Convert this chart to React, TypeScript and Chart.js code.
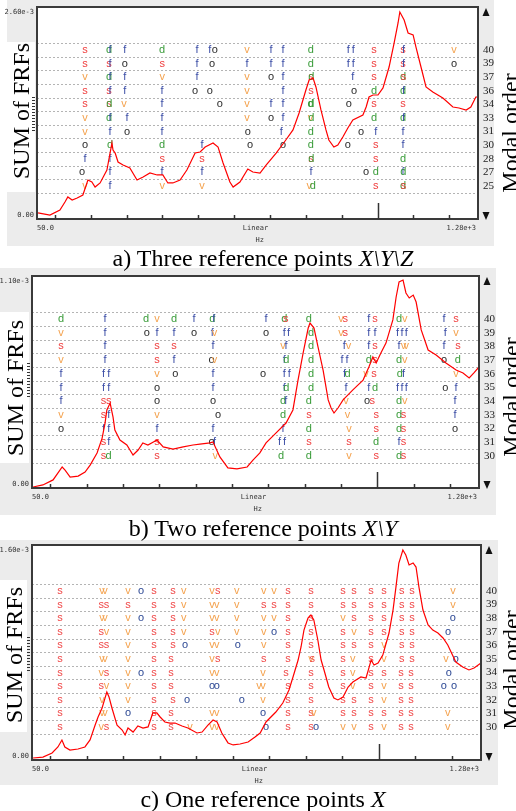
import React, { useEffect, useRef } from 'react';
import { Chart, registerables } from 'chart.js';
Chart.register(...registerables);

// ---------- shared axis data ----------
const FREQ_MIN = 50;
const FREQ_MAX = 1280;
const xTicks = [100, 200, 300, 400, 500, 600, 700, 800, 900, 1000, 1100, 1200];
const xLabels = ['50.0', 'Linear', '1.28e+3', 'Hz'];

// ---------- panel a : three reference points ----------
const freqA = [53,86,114,128,136,148,162,178,192,203,212,226,245,259,262,268,276,290,309,329,346,365,385,401,415,429,449,468,491,505,519,541,555,569,588,597,616,638,652,672,689,717,744,764,781,800,809,820,828,842,856,864,878,889,903,917,931,959,968,976,987,1001,1015,1032,1046,1057,1062,1074,1085,1099,1107,1121,1135,1154,1182,1210,1227,1247,1260,1274,1280];
const sumA = [0.074,0.049,0.110,0.208,0.270,0.233,0.258,0.294,0.478,0.454,0.392,0.442,0.601,0.932,0.846,0.809,0.699,0.662,0.625,0.478,0.515,0.564,0.540,0.540,0.442,0.442,0.478,0.601,0.809,0.822,0.883,0.932,0.883,0.687,0.454,0.392,0.454,0.613,0.576,0.564,0.662,0.809,0.969,1.092,1.300,1.582,1.705,1.729,1.619,1.337,1.092,0.969,0.883,0.908,1.006,1.116,1.214,1.275,1.374,1.496,1.521,1.521,1.607,1.864,2.158,2.404,2.539,2.441,2.281,2.257,2.109,1.864,1.619,1.557,1.484,1.374,1.361,1.337,1.374,1.496,1.496];
const ordersA = ['40','39','37','36','34','33','31','30','28','27','25'];
const marksA = [
  '184s 251d 254f 295f 399d 496f 532f 546o 636v 703f 736f 814d 918f 932f 990s 1071s 1072f 1213v',
  '184s 251s 254f 295o 399s 496f 538o 636f 703f 736f 814d 918f 932f 990s 1071s 1072f 1213o',
  '184v 251d 254f 295f 399v 496f 636v 703o 736f 814s 815d 931f 990s 1071d 1072s',
  '184s 251s 254f 295f 399f 491o 532o 636v 736f 814s 934o 990d 1071d 1072f',
  '184s 251s 252d 293v 399f 560o 636v 703f 736f 813d 815d 920o 990s 1071s',
  '184v 251d 254f 301f 399f 636v 703o 736f 813v 815d 990d 1071d 1072f',
  '184v 254f 301o 399f 638o 731f 814d 954o 995f 1071f',
  '184o 254d 399d 510f 644o 736o 814d 917o 995s 1071f',
  '184f 254f 399s 510s 814s 815d 995s 1071d',
  '176o 254f 399f 510f 814f 968o 995d 1071f 1072d',
  '184v 254f 399v 510v 809v 819d 995s 1071d 1072s',
];

// ---------- panel b : two reference points ----------
const freqB = [53,80,108,133,141,155,177,196,210,229,243,251,256,265,273,278,292,311,328,342,355,369,394,411,438,466,493,512,540,548,567,589,614,642,658,677,694,721,749,768,782,796,810,815,826,837,851,865,873,881,892,906,933,961,977,988,997,1010,1024,1043,1052,1060,1071,1079,1088,1099,1107,1121,1140,1162,1189,1217,1236,1253,1266,1280];
const sumB = [0.005,0.016,0.042,0.109,0.093,0.057,0.062,0.083,0.119,0.182,0.259,0.337,0.405,0.441,0.368,0.301,0.249,0.223,0.171,0.197,0.234,0.223,0.249,0.213,0.202,0.213,0.223,0.228,0.234,0.239,0.161,0.104,0.099,0.109,0.145,0.182,0.234,0.285,0.337,0.405,0.560,0.700,0.830,0.856,0.830,0.732,0.612,0.457,0.415,0.389,0.415,0.457,0.509,0.560,0.628,0.680,0.649,0.700,0.752,0.872,0.991,1.069,1.079,1.012,0.986,1.001,0.965,0.820,0.716,0.690,0.649,0.612,0.597,0.571,0.597,0.628];
const ordersB = ['40','39','38','37','36','35','34','33','32','31','30'];
const marksB = [
  '130d 251f 364d 394v 441d 496f 546d 550f 694f 744d 748s 812d 900v 912s 977f 994s 1060d 1076v 1184f 1217s',
  '130v 251f 366o 394f 441f 496o 546f 552v 694o 744f 756f 818d 900v 912s 977f 994f 1056f 1068f 1080f 1187f 1217v',
  '130s 251f 394s 441s 548f 741v 749f 818d 909f 921v 977f 994s 1060f 1072v 1080v 1184f 1222s',
  '130v 251f 394s 441f 544o 552v 744f 750d 818d 903f 917f 977d 994s 1060d 1076v 1184o 1222d',
  '130f 247f 261f 394v 444o 548f 686o 744f 758f 818d 910f 918d 969v 991s 1062d 1072f 1217v',
  '130f 247f 261f 394o 548f 744f 750d 818d 914f 977f 994d 1056f 1068f 1080f 1187o 1217f',
  '130f 247s 261s 394o 548o 741d 748f 812d 914v 972o 986s 1060d 1076v 1214f',
  '130v 247s 261f 394v 562o 741d 812s 918v 997s 1060d 1072s 1214f',
  '130o 247f 261f 394f 548f 741f 812d 922v 997s 1060d 1072s 1214o',
  '247s 261f 394s 544o 552f 731f 745f 812s 922s 997d 1060f 1072s',
  '247s 261d 394s 554v 735d 812d 922v 997s 1060d 1072s',
];

// ---------- panel c : one reference point ----------
const freqC = [53,80,105,121,132,140,154,176,195,209,223,231,242,250,255,261,269,283,297,305,313,327,340,354,368,381,392,401,414,428,442,461,477,502,516,532,546,557,570,587,601,620,642,661,675,691,718,737,754,765,779,787,795,806,814,822,833,842,850,863,877,888,902,916,929,951,965,973,979,987,998,1011,1028,1039,1047,1055,1066,1074,1083,1094,1102,1110,1121,1135,1148,1162,1176,1189,1211,1230,1247,1261,1280];
const sumC = [0.015,0.022,0.052,0.097,0.149,0.097,0.074,0.082,0.097,0.149,0.260,0.320,0.387,0.461,0.506,0.469,0.387,0.260,0.223,0.186,0.238,0.208,0.253,0.238,0.246,0.350,0.350,0.320,0.283,0.275,0.275,0.253,0.238,0.201,0.208,0.260,0.298,0.283,0.201,0.127,0.112,0.119,0.134,0.171,0.201,0.283,0.357,0.424,0.521,0.618,0.744,0.841,0.967,1.057,1.079,1.042,0.893,0.744,0.670,0.543,0.461,0.447,0.469,0.543,0.580,0.618,0.610,0.685,0.744,0.707,0.722,0.781,0.945,1.116,1.287,1.466,1.563,1.526,1.451,1.466,1.436,1.287,1.116,1.005,0.967,0.945,0.908,0.856,0.729,0.692,0.670,0.685,0.722];
const ordersC = ['40','39','38','37','36','35','34','33','32','31','30'];
const marksC = [
  '127s 242v 250v 313v 349o 384s 436s 466v 543v 559s 611v 685v 713v 751s 814s 902s 932s 979s 1014s 1063s 1091s 1203v',
  '127s 240s 254s 313s 384s 436s 466v 543v 556v 611v 685s 713s 751s 814s 902s 932s 979s 1014s 1063s 1091s 1203v',
  '127s 242v 250v 313v 349o 384s 436s 466v 543v 556v 611v 685v 713v 751s 814s 902v 932s 979s 1014s 1063s 1091s 1203o',
  '127s 240s 254v 313v 384s 436s 466v 543s 559v 611v 685v 713o 751s 814s 902s 932v 979s 1014s 1063s 1091s 1190o',
  '127s 240s 254s 313v 384s 436s 469o 543v 556v 614o 685v 751s 814s 902s 932s 979s 1014v 1063s 1091s',
  '127s 242v 250v 313v 384s 431s 543v 559s 685s 751s 814v 818s 902s 929v 979s 1014v 1063s 1091s 1184v 1211o',
  '127s 240v 254s 313v 349o 384s 431s 543v 556v 683v 746s 814s 902s 929v 979s 1014s 1061s 1088s 1192o',
  '127s 240s 254v 313v 384s 431s 543o 556o 672v 683v 751s 814s 902s 929v 979s 1014v 1061s 1088s 1178o 1206o',
  '127s 242v 313v 384s 436s 475o 625o 683v 751s 814s 902s 932s 979s 1014v 1061s 1088s',
  '127s 242v 250v 313o 384s 431s 543v 556v 683o 751s 814s 822v 902s 932s 979s 1014s 1061s 1088s 1189v',
  '127s 240v 254s 384s 431s 483v 543v 556v 691o 751s 814s 828o 902v 932v 979s 1014v 1061s 1088s 1189v',
];

const colorsAB: Record<string, string> = { s: '#f03c3c', f: '#3c4ea6', d: '#3a9c3a', v: '#f4a24e', o: '#2a2a2a' };
const colorsC: Record<string, string> = { s: '#f04646', f: '#3c4ea6', d: '#3a9c3a', v: '#f4a24e', o: '#2c4894' };

type PanelCfg = {
  top: number; height: number;
  pad: { left: number; right: number; top: number; bottom: number };
  gray: number[]; box: number[]; sumPos: number[]; modalPos: number[];
  yMax: number; topLabel: string; y2: number[]; dashY: number;
  freq: number[]; sum: number[]; orders: string[]; marks: string[];
  colors: Record<string, string>;
};

const panels: PanelCfg[] = [
  { top: 0, height: 250, pad: { left: 37, right: 38, top: 7, bottom: 31 }, gray: [7, 0, 487, 246], box: [7, 42, 28, 150],
    sumPos: [23, 111], modalPos: [512, 133], yMax: 2.6, topLabel: '2.60e-3', y2: [-2.43, 13.16], dashY: 97,
    freq: freqA, sum: sumA, orders: ordersA, marks: marksA, colors: colorsAB },
  { top: 262, height: 262, pad: { left: 32, right: 37, top: 14, bottom: 36 }, gray: [0, 6, 496, 247], box: [0, 50, 29, 151],
    sumPos: [17, 126], modalPos: [513, 135], yMax: 1.1, topLabel: '1.10e-3', y2: [-2.34, 13.14], dashY: 101,
    freq: freqB, sum: sumB, orders: ordersB, marks: marksB, colors: colorsAB },
  { top: 530, height: 262, pad: { left: 32, right: 35, top: 15, bottom: 32 }, gray: [0, 10, 498, 245], box: [0, 50, 27, 152],
    sumPos: [16, 125], modalPos: [513, 140], yMax: 1.6, topLabel: '1.60e-3', y2: [-2.43, 13.38], dashY: 107,
    freq: freqC, sum: sumC, orders: ordersC, marks: marksC, colors: colorsC },
];

function makePlugin(cfg: PanelCfg) {
  return {
    id: 'stabPanel',
    beforeDraw(chart: any) {
      const ctx = chart.ctx;
      const ca = chart.chartArea;
      const xs = chart.scales.x;
      const y2 = chart.scales.y2;
      ctx.save();
      ctx.fillStyle = '#ececec';
      ctx.fillRect(cfg.gray[0], cfg.gray[1], cfg.gray[2], cfg.gray[3]);
      ctx.fillStyle = '#ffffff';
      ctx.fillRect(ca.left, ca.top, ca.right - ca.left, ca.bottom - ca.top);
      ctx.fillRect(cfg.box[0], cfg.box[1], cfg.box[2], cfg.box[3]);
      // dashed order grid
      ctx.strokeStyle = '#b4b4b4';
      ctx.lineWidth = 1;
      ctx.setLineDash([2, 2]);
      for (let k = 0; k <= cfg.orders.length; k++) {
        const y = Math.round(y2.getPixelForValue(k - 0.5)) + 0.5;
        ctx.beginPath();
        ctx.moveTo(ca.left, y);
        ctx.lineTo(ca.right, y);
        ctx.stroke();
      }
      ctx.setLineDash([]);
      // stabilization symbols
      ctx.font = '11px "Liberation Sans"';
      ctx.textAlign = 'center';
      ctx.textBaseline = 'middle';
      const n = cfg.marks.length;
      cfg.marks.forEach((row, i) => {
        const y = y2.getPixelForValue(n - 1 - i);
        row.split(' ').forEach((tok) => {
          const f = parseFloat(tok);
          const c = tok.slice(-1);
          ctx.fillStyle = cfg.colors[c];
          ctx.fillText(c, xs.getPixelForValue(f), y);
        });
      });
      ctx.restore();
    },
    afterDraw(chart: any) {
      const ctx = chart.ctx;
      const ca = chart.chartArea;
      const xs = chart.scales.x;
      const y2 = chart.scales.y2;
      ctx.save();
      // frame
      ctx.strokeStyle = '#3a3a3a';
      ctx.lineWidth = 2;
      ctx.strokeRect(ca.left, ca.top, ca.right - ca.left, ca.bottom - ca.top);
      // x ticks (inside)
      ctx.lineWidth = 1.5;
      ctx.strokeStyle = '#333';
      xTicks.forEach((t) => {
        const x = Math.round(xs.getPixelForValue(t)) + 0.5;
        const len = t === 1000 ? 16 : 4;
        ctx.beginPath();
        ctx.moveTo(x, ca.bottom);
        ctx.lineTo(x, ca.bottom - len);
        ctx.stroke();
      });
      // small axis labels
      ctx.fillStyle = '#333';
      ctx.font = '7px "DejaVu Sans Mono"';
      ctx.textBaseline = 'middle';
      ctx.textAlign = 'right';
      ctx.fillText(cfg.topLabel, ca.left - 3, ca.top + 5);
      ctx.fillText('0.00', ca.left - 3, ca.bottom - 4);
      for (let j = 0; j < 12; j++) ctx.fillRect(ca.left - 5, cfg.dashY + j * 3, 3, 1);
      const cx = (ca.left + ca.right) / 2;
      ctx.textAlign = 'left';
      ctx.fillText(xLabels[0], ca.left, ca.bottom + 9);
      ctx.textAlign = 'center';
      ctx.fillText(xLabels[1], cx - 2, ca.bottom + 9);
      ctx.textAlign = 'right';
      ctx.fillText(xLabels[2], ca.right - 2, ca.bottom + 9);
      ctx.textAlign = 'left';
      ctx.fillText(xLabels[3], cx - 2, ca.bottom + 21);
      // arrows
      ctx.fillStyle = '#111';
      const ax = ca.right + 8;
      ctx.beginPath();
      ctx.moveTo(ax, ca.top + 1); ctx.lineTo(ax + 3.5, ca.top + 9); ctx.lineTo(ax - 3.5, ca.top + 9); ctx.closePath(); ctx.fill();
      ctx.beginPath();
      ctx.moveTo(ax, ca.bottom + 1); ctx.lineTo(ax + 3.5, ca.bottom - 7); ctx.lineTo(ax - 3.5, ca.bottom - 7); ctx.closePath(); ctx.fill();
      // order labels
      ctx.fillStyle = '#222';
      ctx.font = '11px "Liberation Serif"';
      ctx.textAlign = 'left';
      ctx.textBaseline = 'middle';
      const n = cfg.orders.length;
      cfg.orders.forEach((lab, i) => {
        ctx.fillText(lab, ca.right + 5, y2.getPixelForValue(n - 1 - i));
      });
      // rotated titles
      ctx.fillStyle = '#000';
      ctx.font = '24px "Liberation Serif"';
      ctx.textAlign = 'center';
      ctx.textBaseline = 'middle';
      ctx.save();
      ctx.translate(cfg.sumPos[0], cfg.sumPos[1]);
      ctx.rotate(-Math.PI / 2);
      ctx.fillText('SUM of FRFs', 0, 0);
      ctx.restore();
      ctx.save();
      ctx.translate(cfg.modalPos[0], cfg.modalPos[1]);
      ctx.rotate(-Math.PI / 2);
      ctx.fillText('Modal order', 0, 0);
      ctx.restore();
      ctx.restore();
    },
  };
}

function Panel({ cfg }: { cfg: PanelCfg }) {
  const ref = useRef<HTMLCanvasElement>(null);
  useEffect(() => {
    if (!ref.current) return;
    const chart = new Chart(ref.current, {
      type: 'line',
      data: {
        datasets: [{
          data: cfg.freq.map((f, i) => ({ x: f, y: cfg.sum[i] })),
          borderColor: '#ff0000',
          borderWidth: 1.2,
          pointRadius: 0,
          tension: 0,
          fill: false,
        }],
      },
      options: {
        responsive: false,
        maintainAspectRatio: false,
        animation: false,
        devicePixelRatio: 1,
        events: [],
        layout: { padding: cfg.pad },
        plugins: { legend: { display: false }, tooltip: { enabled: false }, title: { display: false } },
        scales: {
          x: { type: 'linear', min: FREQ_MIN, max: FREQ_MAX, display: false },
          y: { type: 'linear', min: 0, max: cfg.yMax, display: false },
          y2: { type: 'linear', axis: 'y', position: 'right', min: cfg.y2[0], max: cfg.y2[1], display: false },
        },
      } as any,
      plugins: [makePlugin(cfg)],
    });
    return () => chart.destroy();
  }, [cfg]);
  return (
    <canvas ref={ref} width={516} height={cfg.height}
      style={{ position: 'absolute', left: 0, top: cfg.top, width: 516, height: cfg.height, display: 'block' }} />
  );
}

const captionStyle = (top: number): React.CSSProperties => ({
  position: 'absolute', left: 5, top, width: 516, textAlign: 'center',
  fontFamily: '"Liberation Serif", serif', fontSize: 24, lineHeight: '28px', color: '#000', whiteSpace: 'nowrap',
});

export default function App() {
  return (
    <div style={{ position: 'absolute', left: 0, top: 0, width: 516, height: 811, background: '#fff', overflow: 'hidden' }}>
      {panels.map((p, i) => <Panel key={i} cfg={p} />)}
      <div style={captionStyle(244)}>a) Three reference points <i>{'X\\Y\\Z'}</i></div>
      <div style={captionStyle(514)}>b) Two reference points <i>{'X\\Y'}</i></div>
      <div style={captionStyle(785)}>c) One reference points <i>X</i></div>
    </div>
  );
}
